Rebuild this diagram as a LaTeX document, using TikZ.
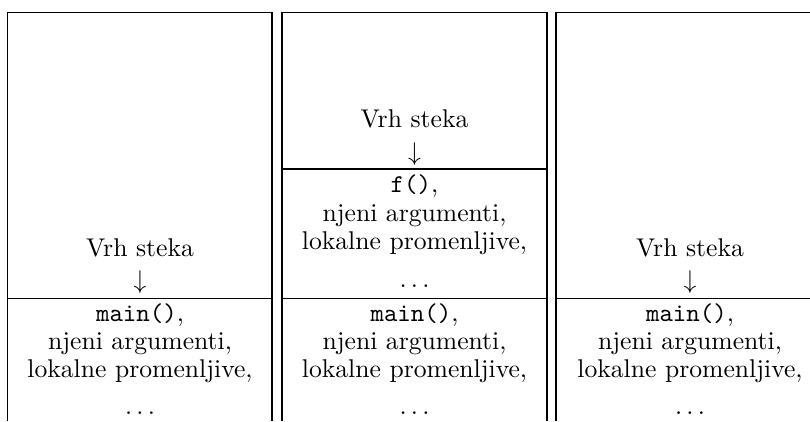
\documentclass[tikz,border=0pt]{standalone}
\begin{document}
\begin{tikzpicture}[x=0.39pt,y=-0.39pt,
  frame/.style={line width=0.4pt},
  txt/.style={anchor=base,inner sep=0pt}]
\useasboundingbox (0,0) rectangle (810,421);
\clip (0,0) rectangle (810,421);
% panel 1
\draw[frame] (7.5,421) -- (7.5,12.5) -- (272,12.5) -- (272,421);
\draw[frame] (7.5,298) -- (272,298);
\node[txt] (a1) at (140,256) {Vrh steka};
\node[txt] (a2) at (140,288.5) {$\downarrow$};
\node[txt] (a3) at (140,321) {\texttt{main()},};
\node[txt] (a4) at (140,349) {njeni argumenti,};
\node[txt] (a5) at (140,377) {lokalne promenljive,};
\node[txt] (a6) at (140,414) {$\ldots$};
% panel 2
\draw[frame] (282,421) -- (282,12.5) -- (547,12.5) -- (547,421);
\draw[frame] (282,169) -- (547,169);
\draw[frame] (282,298) -- (547,298);
\node[txt] (b1) at (414.5,127) {Vrh steka};
\node[txt] (b2) at (414.5,160) {$\downarrow$};
\node[txt] (b3) at (414.5,192) {\texttt{f()},};
\node[txt] (b4) at (414.5,221) {njeni argumenti,};
\node[txt] (b5) at (414.5,249) {lokalne promenljive,};
\node[txt] (b6) at (414.5,287) {$\ldots$};
\node[txt] (b7) at (414.5,321) {\texttt{main()},};
\node[txt] (b8) at (414.5,349) {njeni argumenti,};
\node[txt] (b9) at (414.5,377) {lokalne promenljive,};
\node[txt] (b10) at (414.5,414) {$\ldots$};
% panel 3
\draw[frame] (556,421) -- (556,12.5) -- (824,12.5) -- (824,421);
\draw[frame] (556,298) -- (824,298);
\node[txt] (c1) at (690,256) {Vrh steka};
\node[txt] (c2) at (690,288.5) {$\downarrow$};
\node[txt] (c3) at (690,321) {\texttt{main()},};
\node[txt] (c4) at (690,349) {njeni argumenti,};
\node[txt] (c5) at (690,377) {lokalne promenljive,};
\node[txt] (c6) at (690,414) {$\ldots$};
\end{tikzpicture}
\end{document}
